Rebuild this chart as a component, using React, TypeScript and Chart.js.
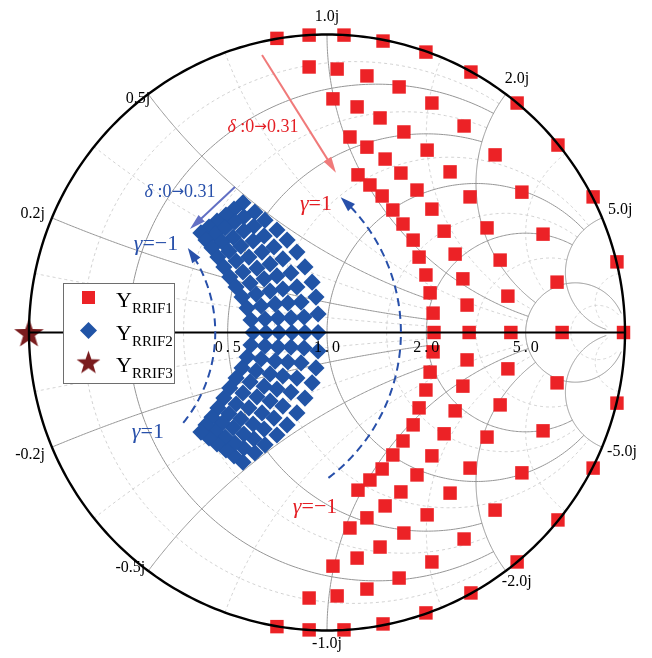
import React, { useEffect, useRef } from "react";
import { Chart, registerables } from "chart.js";

Chart.register(...registerables);

// ---------------- data (reflection-coefficient plane, Re / Im) ----------------
// Y_RRIF1 : one row per delta step (0 -> 0.31), points from gamma = 1 (top) to gamma = -1 (bottom)
const rrif1Re: number[][] = [
  [-0.168, -0.060, 0.057, 0.188, 0.332, 0.483, 0.638, 0.775, 0.893, 0.973, 0.995, 0.973, 0.893, 0.775, 0.638, 0.483, 0.332, 0.188, 0.057, -0.060, -0.168],
  [-0.060, 0.034, 0.134, 0.242, 0.352, 0.460, 0.564, 0.654, 0.725, 0.772, 0.789, 0.772, 0.725, 0.654, 0.564, 0.460, 0.352, 0.242, 0.134, 0.034, -0.060],
  [0.020, 0.101, 0.178, 0.258, 0.336, 0.413, 0.480, 0.537, 0.581, 0.607, 0.617, 0.607, 0.581, 0.537, 0.480, 0.413, 0.336, 0.258, 0.178, 0.101, 0.020],
  [0.077, 0.134, 0.195, 0.248, 0.302, 0.352, 0.393, 0.430, 0.456, 0.470, 0.477, 0.470, 0.456, 0.430, 0.393, 0.352, 0.302, 0.248, 0.195, 0.134, 0.077],
  [0.104, 0.144, 0.185, 0.221, 0.255, 0.289, 0.309, 0.332, 0.346, 0.356, 0.359, 0.356, 0.346, 0.332, 0.309, 0.289, 0.255, 0.221, 0.185, 0.144, 0.104],
];
const rrif1Im: number[][] = [
  [0.987, 0.998, 0.998, 0.978, 0.941, 0.874, 0.770, 0.629, 0.455, 0.237, 0, -0.237, -0.455, -0.629, -0.770, -0.874, -0.941, -0.978, -0.998, -0.998, -0.987],
  [0.891, 0.884, 0.861, 0.824, 0.770, 0.693, 0.596, 0.471, 0.330, 0.169, 0, -0.169, -0.330, -0.471, -0.596, -0.693, -0.770, -0.824, -0.861, -0.884, -0.891],
  [0.784, 0.757, 0.720, 0.673, 0.612, 0.539, 0.455, 0.351, 0.243, 0.122, 0, -0.122, -0.243, -0.351, -0.455, -0.539, -0.612, -0.673, -0.720, -0.757, -0.784],
  [0.656, 0.622, 0.582, 0.535, 0.478, 0.414, 0.340, 0.263, 0.180, 0.092, 0, -0.092, -0.180, -0.263, -0.340, -0.414, -0.478, -0.535, -0.582, -0.622, -0.656],
  [0.529, 0.495, 0.458, 0.411, 0.364, 0.310, 0.253, 0.193, 0.133, 0.065, 0, -0.065, -0.133, -0.193, -0.253, -0.310, -0.364, -0.411, -0.458, -0.495, -0.529],
];

// Y_RRIF2
const rrif2Re: number[][] = [
  [-0.282, -0.242, -0.208, -0.168, -0.134, -0.101, -0.074, -0.050, -0.037, -0.030, -0.030, -0.030, -0.037, -0.050, -0.074, -0.101, -0.134, -0.168, -0.208, -0.242, -0.282],
  [-0.312, -0.279, -0.245, -0.211, -0.178, -0.148, -0.121, -0.101, -0.087, -0.077, -0.074, -0.077, -0.087, -0.101, -0.121, -0.148, -0.178, -0.211, -0.245, -0.279, -0.312],
  [-0.339, -0.309, -0.279, -0.248, -0.218, -0.191, -0.168, -0.148, -0.131, -0.121, -0.117, -0.121, -0.131, -0.148, -0.168, -0.191, -0.218, -0.248, -0.279, -0.309, -0.339],
  [-0.369, -0.342, -0.315, -0.289, -0.262, -0.235, -0.211, -0.191, -0.174, -0.164, -0.161, -0.164, -0.174, -0.191, -0.211, -0.235, -0.262, -0.289, -0.315, -0.342, -0.369],
  [-0.396, -0.376, -0.352, -0.329, -0.305, -0.282, -0.258, -0.238, -0.221, -0.208, -0.205, -0.208, -0.221, -0.238, -0.258, -0.282, -0.305, -0.329, -0.352, -0.376, -0.396],
  [-0.423, -0.406, -0.386, -0.366, -0.346, -0.326, -0.305, -0.285, -0.268, -0.255, -0.248, -0.255, -0.268, -0.285, -0.305, -0.326, -0.346, -0.366, -0.386, -0.406, -0.423],
];
const rrif2Im: number[][] = [
  [0.435, 0.404, 0.377, 0.344, 0.310, 0.270, 0.220, 0.169, 0.119, 0.062, 0, -0.062, -0.119, -0.169, -0.220, -0.270, -0.310, -0.344, -0.377, -0.404, -0.435],
  [0.414, 0.388, 0.357, 0.324, 0.287, 0.247, 0.200, 0.153, 0.102, 0.052, 0, -0.052, -0.102, -0.153, -0.200, -0.247, -0.287, -0.324, -0.357, -0.388, -0.414],
  [0.394, 0.371, 0.341, 0.307, 0.270, 0.230, 0.190, 0.146, 0.099, 0.049, 0, -0.049, -0.099, -0.146, -0.190, -0.230, -0.270, -0.307, -0.341, -0.371, -0.394],
  [0.374, 0.351, 0.320, 0.290, 0.253, 0.216, 0.180, 0.139, 0.096, 0.049, 0, -0.049, -0.096, -0.139, -0.180, -0.216, -0.253, -0.290, -0.320, -0.351, -0.374],
  [0.354, 0.331, 0.304, 0.273, 0.240, 0.203, 0.166, 0.129, 0.089, 0.045, 0, -0.045, -0.089, -0.129, -0.166, -0.203, -0.240, -0.273, -0.304, -0.331, -0.354],
  [0.334, 0.310, 0.284, 0.253, 0.220, 0.186, 0.153, 0.119, 0.082, 0.042, 0, -0.042, -0.082, -0.119, -0.153, -0.186, -0.220, -0.253, -0.284, -0.310, -0.334],
];

// Y_RRIF3
const rrif3Re: number[] = [-1.0];
const rrif3Im: number[] = [0];

// Smith grid values and where each circle / arc ends
const majorValues = [0.2, 0.5, 1, 2, 5];
const majorLimits = [2, 2, 5, 5, 30];
const minorValues = [0.1, 0.35, 0.7, 1.5, 3, 10];
const minorLimits = [2, 2, 5, 5, 5, 30];

const realTickValues = [0.5, 1, 2, 5];
const realTickLabels = ["0.5", "1.0", "2.0", "5.0"];
const imagTickValues = [0.2, 0.5, 1, 2, 5, -0.2, -0.5, -1, -2, -5];
const imagTickLabels = ["0.2j", "0.5j", "1.0j", "2.0j", "5.0j", "-0.2j", "-0.5j", "-1.0j", "-2.0j", "-5.0j"];
const legendNames = ["RRIF1", "RRIF2", "RRIF3"];

// ---------------- style ----------------
const RED = "rgb(236,34,38)";
const BLUE = "rgb(33,84,166)";
const STARC = "rgb(122,28,30)";
const TXT_RED = "rgb(228,30,36)";
const TXT_BLUE = "rgb(40,80,170)";
const SERIF = '"Liberation Serif", "Times New Roman", serif';
const ARROWF = '"DejaVu Sans", sans-serif';

// label placement: [dx, dy, align] relative to the rim point of the reactance arc
const imagLabelOffsets: [number, number, CanvasTextAlign][] = [
  [-7, -4, "right"], [2, 5, "right"], [0, -18, "center"], [-1, -15.5, "left"], [6, -8.5, "left"],
  [-7, 8, "right"], [-3, -3, "right"], [0, 13.5, "center"], [-4, 11, "left"], [5, 4.5, "left"],
];

function zToGamma(r: number, x: number): [number, number] {
  const a = r + 1;
  const den = a * a + x * x;
  return [(r * r - 1 + x * x) / den, (2 * x) / den];
}

function rCirclePts(r: number, xmax: number, n = 300): [number, number][] {
  const c = r / (1 + r);
  const R = 1 / (1 + r);
  const [ex, ey] = zToGamma(r, xmax);
  const th = Math.atan2(ey, ex - c);
  const pts: [number, number][] = [];
  for (let i = 0; i <= n; i++) {
    const t = th + ((2 * Math.PI - 2 * th) * i) / n;
    pts.push([c + R * Math.cos(t), R * Math.sin(t)]);
  }
  return pts;
}

function xArcPts(x: number, rmax: number, n = 240): [number, number][] {
  const ax = Math.abs(x);
  const s = Math.sign(x);
  const cy = 1 / ax;
  const R = 1 / ax;
  const [p0x, p0y] = zToGamma(0, ax);
  const [p1x, p1y] = zToGamma(rmax, ax);
  let t0 = Math.atan2(p0y - cy, p0x - 1);
  if (t0 < 0) t0 += 2 * Math.PI;
  let t1 = Math.atan2(p1y - cy, p1x - 1);
  if (t1 < 0) t1 += 2 * Math.PI;
  if (t1 < t0) t1 += 2 * Math.PI;
  const pts: [number, number][] = [];
  for (let i = 0; i <= n; i++) {
    const t = t0 + ((t1 - t0) * i) / n;
    pts.push([1 + R * Math.cos(t), s * (cy + R * Math.sin(t))]);
  }
  return pts;
}

function makeStar(size: number, color: string): HTMLCanvasElement {
  const c = document.createElement("canvas");
  c.width = size;
  c.height = size;
  const g = c.getContext("2d")!;
  const cx = size / 2;
  const cy = size / 2 + size * 0.05;
  const R = size / 2;
  const r = R * 0.4;
  g.beginPath();
  for (let i = 0; i < 10; i++) {
    const a = -Math.PI / 2 + (i * Math.PI) / 5;
    const rad = i % 2 ? r : R;
    const px = cx + rad * Math.cos(a);
    const py = cy + rad * Math.sin(a);
    if (i === 0) g.moveTo(px, py);
    else g.lineTo(px, py);
  }
  g.closePath();
  g.fillStyle = color;
  g.fill();
  return c;
}

type Run = { t: string; font: string; color: string; dy?: number };
function drawRuns(ctx: CanvasRenderingContext2D, runs: Run[], x: number, y: number, align: "left" | "center" | "right", baseline: CanvasTextBaseline = "middle") {
  ctx.textBaseline = baseline;
  ctx.textAlign = "left";
  let total = 0;
  for (const r of runs) {
    ctx.font = r.font;
    total += ctx.measureText(r.t).width;
  }
  let cx = align === "left" ? x : align === "center" ? x - total / 2 : x - total;
  for (const r of runs) {
    ctx.font = r.font;
    ctx.fillStyle = r.color;
    ctx.fillText(r.t, cx, y + (r.dy || 0));
    cx += ctx.measureText(r.t).width;
  }
}

function arrowHead(ctx: CanvasRenderingContext2D, tx: number, ty: number, fx: number, fy: number, len: number, hw: number, color: string) {
  const dx = tx - fx;
  const dy = ty - fy;
  const d = Math.hypot(dx, dy) || 1;
  const ux = dx / d;
  const uy = dy / d;
  const bx = tx - ux * len;
  const by = ty - uy * len;
  ctx.beginPath();
  ctx.moveTo(tx, ty);
  ctx.lineTo(bx - uy * hw, by + ux * hw);
  ctx.lineTo(bx + uy * hw, by - ux * hw);
  ctx.closePath();
  ctx.fillStyle = color;
  ctx.fill();
}

export default function App() {
  const ref = useRef<HTMLCanvasElement>(null);

  useEffect(() => {
    document.body.style.margin = "0";
    const canvas = ref.current!;
    const star30 = makeStar(31, STARC);
    const star24 = makeStar(25, STARC);

    const toPts = (re: number[][], im: number[][]) =>
      re.flatMap((row, k) => row.map((v, i) => ({ x: v, y: im[k][i] })));

    const smithPlugin = {
      id: "smithGrid",
      beforeDatasetsDraw(chart: any) {
        const ctx: CanvasRenderingContext2D = chart.ctx;
        const xs = chart.scales.x;
        const ys = chart.scales.y;
        const stroke = (pts: [number, number][]) => {
          ctx.beginPath();
          pts.forEach(([a, b], i) => {
            const u = xs.getPixelForValue(a);
            const v = ys.getPixelForValue(b);
            if (i === 0) ctx.moveTo(u, v);
            else ctx.lineTo(u, v);
          });
          ctx.stroke();
        };
        ctx.save();
        ctx.strokeStyle = "rgb(205,205,205)";
        ctx.lineWidth = 0.9;
        ctx.setLineDash([3, 3]);
        minorValues.forEach((v, i) => {
          stroke(rCirclePts(v, minorLimits[i]));
          stroke(xArcPts(v, minorLimits[i]));
          stroke(xArcPts(-v, minorLimits[i]));
        });
        ctx.setLineDash([]);
        ctx.strokeStyle = "rgb(150,150,150)";
        ctx.lineWidth = 1;
        majorValues.forEach((v, i) => {
          stroke(rCirclePts(v, majorLimits[i]));
          stroke(xArcPts(v, majorLimits[i]));
          stroke(xArcPts(-v, majorLimits[i]));
        });
        ctx.restore();
      },
      afterDatasetsDraw(chart: any) {
        const ctx: CanvasRenderingContext2D = chart.ctx;
        const xs = chart.scales.x;
        const ys = chart.scales.y;
        const P = (a: number, b: number): [number, number] => [xs.getPixelForValue(a), ys.getPixelForValue(b)];
        ctx.save();

        // outer rim and real axis
        ctx.strokeStyle = "#000";
        ctx.lineWidth = 2.4;
        ctx.beginPath();
        for (let i = 0; i <= 360; i++) {
          const t = (i * Math.PI) / 180;
          const [u, v] = P(Math.cos(t), Math.sin(t));
          if (i === 0) ctx.moveTo(u, v);
          else ctx.lineTo(u, v);
        }
        ctx.stroke();
        ctx.lineWidth = 2;
        ctx.beginPath();
        const [l0, l1] = P(-1, 0);
        const [r0, r1] = P(1, 0);
        ctx.moveTo(l0, l1);
        ctx.lineTo(r0, r1);
        ctx.stroke();

        // real-axis labels
        const f16 = `16px ${SERIF}`;
        ctx.fillStyle = "#000";
        (ctx as any).letterSpacing = "3px";
        realTickValues.forEach((v, i) => {
          const [g] = zToGamma(v, 0);
          const [u, w] = P(g, 0);
          ctx.font = f16;
          ctx.textAlign = "center";
          ctx.textBaseline = "alphabetic";
          ctx.fillText(realTickLabels[i], u + 1.5, w + 19.5);
        });
        (ctx as any).letterSpacing = "0px";

        // reactance labels at the rim
        imagTickValues.forEach((v, i) => {
          const [gx, gy] = zToGamma(0, v);
          const [u, w] = P(gx, gy);
          const [dx, dy, al] = imagLabelOffsets[i];
          ctx.font = f16;
          ctx.fillStyle = "#000";
          ctx.textAlign = al;
          ctx.textBaseline = "middle";
          ctx.fillText(imagTickLabels[i], u + dx, w + dy);
        });

        // solid arrows (delta direction)
        const solidArrow = (a: [number, number], b: [number, number], color: string) => {
          const [ax, ay] = P(a[0], a[1]);
          const [bx, by] = P(b[0], b[1]);
          const d = Math.hypot(bx - ax, by - ay);
          const ex = bx - ((bx - ax) / d) * 12;
          const ey = by - ((by - ay) / d) * 12;
          ctx.strokeStyle = color;
          ctx.lineWidth = 2;
          ctx.beginPath();
          ctx.moveTo(ax, ay);
          ctx.lineTo(ex, ey);
          ctx.stroke();
          arrowHead(ctx, bx, by, ax, ay, 16, 4.5, color);
        };
        solidArrow([-0.218, 0.931], [0.030, 0.536], "rgb(240,122,122)");
        solidArrow([-0.309, 0.488], [-0.460, 0.347], "rgb(98,112,196)");

        // dashed gamma arcs with arrowheads at the top
        const dashedArc = (cx: number, R: number, a0: number, a1: number) => {
          const rad = Math.PI / 180;
          const stop = a1 - 4;
          ctx.strokeStyle = TXT_BLUE;
          ctx.lineWidth = 2;
          ctx.setLineDash([8, 5]);
          ctx.beginPath();
          for (let i = 0; i <= 120; i++) {
            const t = (a0 + ((stop - a0) * i) / 120) * rad;
            const [u, w] = P(cx + R * Math.cos(t), R * Math.sin(t));
            if (i === 0) ctx.moveTo(u, w);
            else ctx.lineTo(u, w);
          }
          ctx.stroke();
          ctx.setLineDash([]);
          const [tx, ty] = P(cx + R * Math.cos(a1 * rad), R * Math.sin(a1 * rad));
          const [fx, fy] = P(cx + R * Math.cos((a1 - 3) * rad), R * Math.sin((a1 - 3) * rad));
          arrowHead(ctx, tx, ty, fx, fy, 15, 5, TXT_BLUE);
        };
        dashedArc(-0.363, 0.611, -53, 48);
        dashedArc(-0.857, 0.482, -39, 36);

        // annotation texts
        const it = (s: number) => `italic ${s}px ${SERIF}`;
        const rm = (s: number) => `${s}px ${SERIF}`;
        const ar = (s: number) => `${s}px ${ARROWF}`;
        const at = (g: [number, number], runs: Run[]) => {
          const [u, w] = P(g[0], g[1]);
          drawRuns(ctx, runs, u, w, "center");
        };
        const deltaRuns = (c: string): Run[] => [
          { t: "\u03b4", font: it(18), color: c },
          { t: " :0", font: rm(18), color: c },
          { t: "\u2192", font: ar(15), color: c },
          { t: "0.31", font: rm(18), color: c },
        ];
        at([-0.215, 0.688], deltaRuns(TXT_RED));
        at([-0.493, 0.471], deltaRuns(TXT_BLUE));
        at([-0.037, 0.431], [{ t: "\u03b3", font: it(22), color: TXT_RED }, { t: "=1", font: rm(22), color: TXT_RED }]);
        at([-0.040, -0.586], [{ t: "\u03b3", font: it(22), color: TXT_RED }, { t: "=\u22121", font: rm(22), color: TXT_RED }]);
        at([-0.574, 0.297], [{ t: "\u03b3", font: it(22), color: TXT_BLUE }, { t: "=\u22121", font: rm(22), color: TXT_BLUE }]);
        at([-0.601, -0.334], [{ t: "\u03b3", font: it(22), color: TXT_BLUE }, { t: "=1", font: rm(22), color: TXT_BLUE }]);

        // legend box
        const bx = 63.5, by = 283.5, bw = 111, bh = 100;
        ctx.fillStyle = "#fff";
        ctx.fillRect(bx, by, bw, bh);
        ctx.strokeStyle = "rgb(110,110,110)";
        ctx.lineWidth = 1;
        ctx.strokeRect(bx, by, bw, bh);
        const mx = 88.5;
        const rowsY = [297.5, 330.5, 362];
        ctx.fillStyle = RED;
        ctx.fillRect(mx - 6.5, rowsY[0] - 6.5, 13, 13);
        ctx.fillStyle = BLUE;
        ctx.beginPath();
        ctx.moveTo(mx - 8.5, rowsY[1]);
        ctx.lineTo(mx, rowsY[1] - 8.5);
        ctx.lineTo(mx + 8.5, rowsY[1]);
        ctx.lineTo(mx, rowsY[1] + 8.5);
        ctx.closePath();
        ctx.fill();
        ctx.drawImage(star24, mx - 12.5, rowsY[2] - 12.5);
        const yBase = [307, 339.5, 372];
        legendNames.forEach((n, i) => {
          drawRuns(ctx, [
            { t: "Y", font: rm(22), color: "#000" },
            { t: n, font: rm(15), color: "#000", dy: 6 },
          ], 116, yBase[i], "left", "alphabetic");
        });

        ctx.restore();
      },
    };

    const chart = new Chart(canvas, {
      type: "scatter",
      data: {
        datasets: [
          {
            label: "Y_RRIF1",
            data: toPts(rrif1Re, rrif1Im),
            pointStyle: "rect",
            pointRadius: 9.5,
            backgroundColor: RED,
            borderWidth: 0,
            clip: false as any,
          },
          {
            label: "Y_RRIF2",
            data: toPts(rrif2Re, rrif2Im),
            pointStyle: "rectRot",
            pointRadius: 8.6,
            backgroundColor: BLUE,
            borderWidth: 0,
            clip: false as any,
          },
          {
            label: "Y_RRIF3",
            data: rrif3Re.map((v, i) => ({ x: v, y: rrif3Im[i] })),
            pointStyle: star30 as any,
            pointRadius: 15,
            backgroundColor: STARC,
            borderWidth: 0,
            clip: false as any,
          },
        ],
      },
      options: {
        responsive: false,
        animation: false,
        devicePixelRatio: 1,
        events: [],
        layout: { padding: { left: 29, right: 27, top: 34.5, bottom: 27.5 } },
        scales: {
          x: { type: "linear", min: -1, max: 1, display: false },
          y: { type: "linear", min: -1, max: 1, display: false },
        },
        plugins: { legend: { display: false }, tooltip: { enabled: false } },
      },
      plugins: [smithPlugin as any],
    });

    return () => chart.destroy();
  }, []);

  return (
    <div style={{ width: 652, height: 658, background: "#fff" }}>
      <canvas ref={ref} width={652} height={658} style={{ display: "block" }} />
    </div>
  );
}
